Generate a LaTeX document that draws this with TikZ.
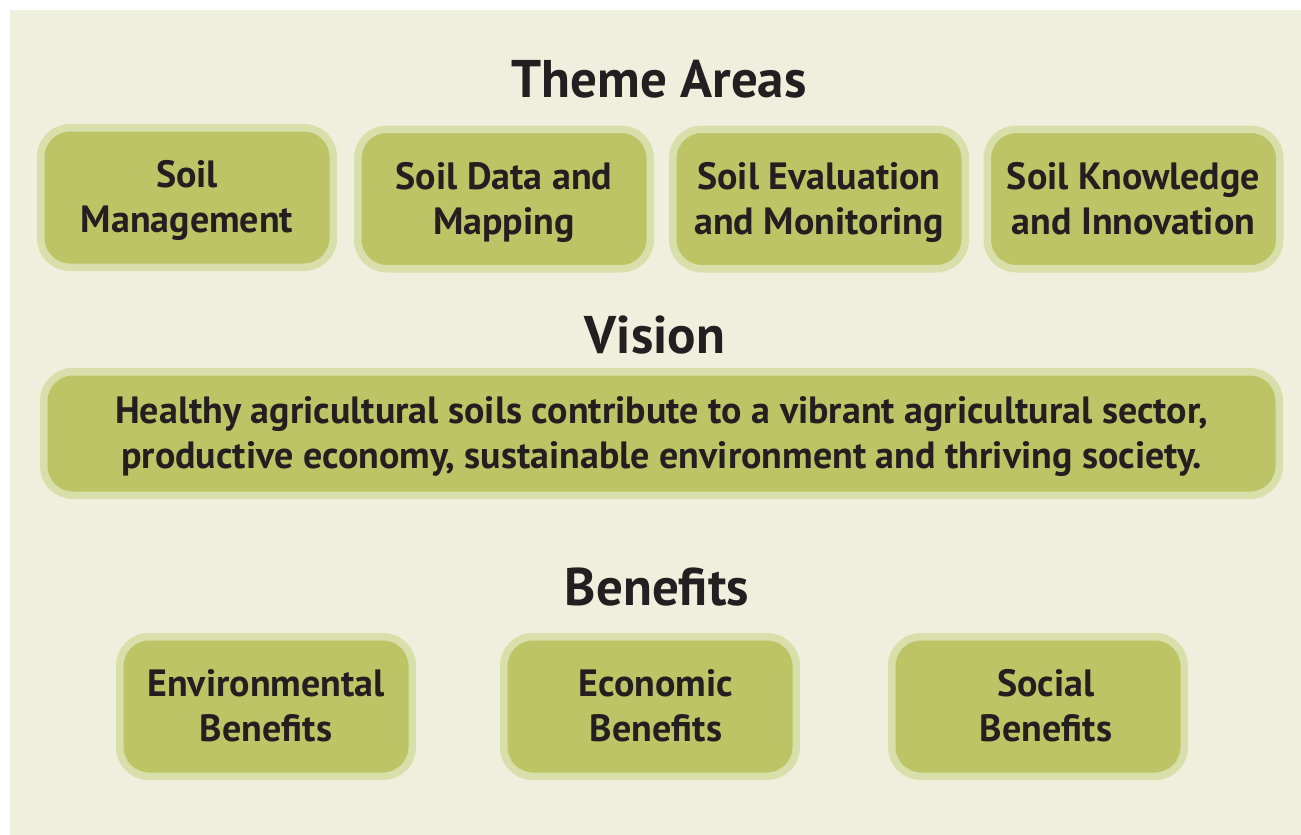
\documentclass[tikz,border=0pt]{standalone}
\usepackage{fontspec}
\setmainfont{PT Sans}
\usepackage{tikz}

\definecolor{pagecream}{HTML}{EEF0DD}
\definecolor{boxgreen}{HTML}{BCC465}
\definecolor{boxrim}{HTML}{D8DFAA}
\definecolor{inkdark}{HTML}{231F20}

\begin{document}
\begin{tikzpicture}[x=1pt, y=-1pt,
    areabox/.style={draw=boxrim, fill=boxgreen, line width=7.5pt, rounded corners=29pt,
        minimum width=292.5pt, minimum height=139.5pt, align=center, inner sep=0pt,
        text=inkdark, font=\fontsize{38}{45}\selectfont\bfseries,
        execute at begin node=\rule{0pt}{84pt}, execute at end node=\strut},
    heading/.style={anchor=base, text=inkdark, inner sep=0pt,
        font=\fontsize{53}{60}\selectfont\bfseries}]
    \useasboundingbox (0,0) rectangle (1301,835);
    \fill[white] (0,0) rectangle (1301,835);
    \fill[pagecream] (10,10) rectangle (1301,835);

    \node[heading] (themehead) at (659,97) {Theme Areas};
    \node[areabox] (mgmt) at (187,197.5) {Soil\\Management};
    \node[areabox] (mapping) at (504,199) {Soil Data and\\Mapping};
    \node[areabox] (monitor) at (819,199) {Soil Evaluation\\and Monitoring};
    \node[areabox] (innov) at (1133.5,199) {Soil Knowledge\\and Innovation};

    \node[heading] (visionhead) at (655,353) {Vision};
    \node[areabox, minimum width=1235.5pt, minimum height=123.5pt,
        execute at begin node=\rule{0pt}{80.5pt}] (vision) at (661.5,433.5)
        {Healthy agricultural soils contribute to a vibrant agricultural sector,\\productive economy, sustainable environment and thriving society.};

    \node[heading] (benefitshead) at (657,605) {Benefits};
    \node[areabox] (envben) at (266,706.5) {Environmental\\Benefits};
    \node[areabox] (econben) at (650,706.5) {\hspace*{12pt}Economic\\\hspace*{12pt}Benefits};
    \node[areabox] (socben) at (1038,706.5) {\hspace*{16pt}Social\\\hspace*{16pt}Benefits};
\end{tikzpicture}
\end{document}
